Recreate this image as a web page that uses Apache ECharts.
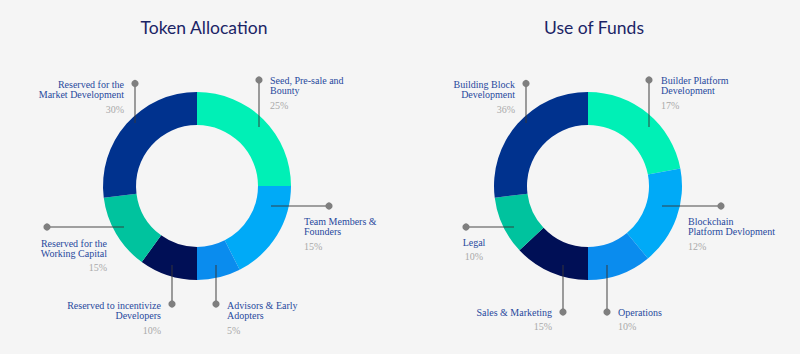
<!DOCTYPE html>
<html>
<head>
<meta charset="utf-8">
<script src="https://cdn.jsdelivr.net/npm/echarts@6/dist/echarts.min.js"></script>
<style>
html,body{margin:0;padding:0;background:#f5f5f5;}
#chart{width:800px;height:354px;}
</style>
</head>
<body>
<div id="chart"></div>
<script>
// ---- data ----
const titles = ['Token Allocation', 'Use of Funds'];

const allocNames = ['Seed, Pre-sale and\nBounty', 'Team Members &\nFounders', 'Advisors & Early\nAdopters',
  'Reserved to incentivize\nDevelopers', 'Reserved for the\nWorking Capital', 'Reserved for the\nMarket Development'];
const allocLabels = ['25%', '15%', '5%', '10%', '15%', '30%'];
// slice sizes as drawn in the picture
const allocValues = [25, 17.5, 7.5, 10, 13, 27];

const fundNames = ['Builder Platform\nDevelopment', 'Blockchain\nPlatform Devlopment', 'Operations',
  'Sales & Marketing', 'Legal', 'Building Block\nDevelopment'];
const fundLabels = ['17%', '12%', '10%', '15%', '10%', '36%'];
const fundValues = [22, 17, 11, 13, 10, 27];

// ---- style / layout ----
const colors = ['#00f0b6', '#00aaf7', '#0a8cee', '#000f56', '#00c39e', '#00328e'];
const centers = [[197, 186], [588, 186]];
const radius = [61, 94];
// annotation layout: dot, line end, text x, align, name y (first line centre), percent y
const allocLayout = [
  {dot:[259,80], end:[259,127], x:270, align:'left', ny:80, py:105},
  {dot:[329,206], end:[271,206], x:304, align:'left', ny:221, py:246},
  {dot:[216,304], end:[216,265], x:227, align:'left', ny:305, py:330},
  {dot:[172,304], end:[172,265], x:161, align:'right', ny:305, py:330},
  {dot:[47,227], end:[124,227], x:107, align:'right', ny:243, py:267},
  {dot:[135,83.5], end:[135,123], x:124, align:'right', ny:84.5, py:109}
];
const fundLayout = [
  {dot:[649,80], end:[649,127], x:661, align:'left', ny:80, py:105},
  {dot:[721,206], end:[662,206], x:688, align:'left', ny:221, py:246},
  {dot:[607,312], end:[607,265], x:618, align:'left', ny:312, py:326},
  {dot:[563,312], end:[563,265], x:552, align:'right', ny:312, py:326},
  {dot:[466,227], end:[514,227], x:474, align:'center', ny:242, py:256},
  {dot:[526,83.5], end:[526,123], x:515, align:'right', ny:84.5, py:109}
];

const labelFont = '"Liberation Serif", "DejaVu Serif", serif';
const nameColor = '#28499d';
const pctColor = '#a9a9a9';

function annotations(names, pcts, layout) {
  const out = [];
  layout.forEach((l, i) => {
    out.push({type:'line', z:100, silent:true,
      shape:{x1:l.dot[0], y1:l.dot[1], x2:l.end[0], y2:l.end[1]},
      style:{stroke:'rgba(55,55,55,0.6)', lineWidth:1.6}});
    out.push({type:'circle', z:101, silent:true,
      shape:{cx:l.dot[0], cy:l.dot[1], r:3.6},
      style:{fill:'#7f7f7f'}});
    out.push({type:'text', z:102, silent:true, x:l.x, y:l.ny - 5.2,
      style:{text:names[i], fill:nameColor, font:'10px ' + labelFont,
        lineHeight:10.4, align:l.align, verticalAlign:'top'}});
    out.push({type:'text', z:102, silent:true, x:l.x, y:l.py,
      style:{text:pcts[i], fill:pctColor, font:'10px ' + labelFont,
        align:l.align, verticalAlign:'middle'}});
  });
  return out;
}

function pieSeries(values, names, c) {
  return {
    type:'pie', center:c, radius:radius, startAngle:90, clockwise:true,
    label:{show:false}, labelLine:{show:false}, silent:true,
    emphasis:{disabled:true}, animation:false,
    itemStyle:{borderWidth:0},
    data: values.map((v, i) => ({value:v, name:names[i], itemStyle:{color:colors[i]}}))
  };
}

const titleStyle = {fontFamily:'Lato, "Open Sans", sans-serif', fontWeight:'normal', fontSize:17.5, color:'#1b2466'};
const chart = echarts.init(document.getElementById('chart'), null, {renderer:'svg'});
chart.setOption({
  backgroundColor:'#f5f5f5',
  animation:false,
  title:[
    {text:titles[0], left:199, top:13, textAlign:'center', textStyle:titleStyle},
    {text:titles[1], left:589, top:13, textAlign:'center', textStyle:titleStyle}
  ],
  series:[
    pieSeries(allocValues, allocNames, centers[0]),
    pieSeries(fundValues, fundNames, centers[1])
  ],
  graphic: annotations(allocNames, allocLabels, allocLayout).concat(annotations(fundNames, fundLabels, fundLayout))
});
</script>
</body>
</html>
